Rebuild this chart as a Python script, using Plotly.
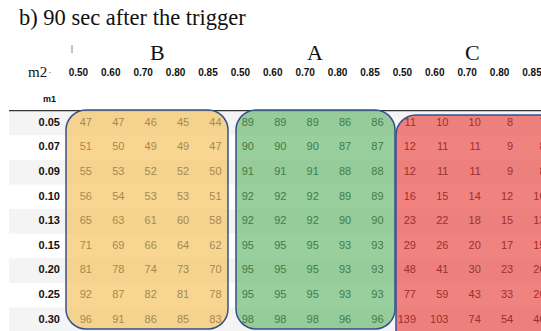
import plotly.graph_objects as go

# ---------------- data ----------------
m1_labels = ["0.05", "0.07", "0.09", "0.10", "0.13", "0.15", "0.20", "0.25", "0.30"]
m2_labels = ["0.50", "0.60", "0.70", "0.80", "0.85"]
groups = ["B", "A", "C"]

B_vals = [
    [47, 47, 46, 45, 44],
    [51, 50, 49, 49, 47],
    [55, 53, 52, 52, 50],
    [56, 54, 53, 53, 51],
    [65, 63, 61, 60, 58],
    [71, 69, 66, 64, 62],
    [81, 78, 74, 73, 70],
    [92, 87, 82, 81, 78],
    [96, 91, 86, 85, 83],
]
A_vals = [
    [89, 89, 89, 86, 86],
    [90, 90, 90, 87, 87],
    [91, 91, 91, 88, 88],
    [92, 92, 92, 89, 89],
    [92, 92, 92, 90, 90],
    [95, 95, 95, 93, 93],
    [95, 95, 95, 93, 93],
    [95, 95, 95, 93, 93],
    [98, 98, 98, 96, 96],
]
C_vals = [
    [11, 10, 10, 8, 7],
    [12, 11, 11, 9, 8],
    [12, 11, 11, 9, 8],
    [16, 15, 14, 12, 10],
    [23, 22, 18, 15, 13],
    [29, 26, 20, 17, 15],
    [48, 41, 30, 23, 20],
    [77, 59, 43, 33, 26],
    [139, 103, 74, 54, 40],
]

# ---------------- geometry helpers ----------------
W, H = 541, 331
COL0, COLW = 92.0, 32.4   # right edge of first value column, column pitch (px)
ROW0, ROWH = 123.0, 24.6  # centre of first row, row pitch (px)


def X(px):
    return (px - COL0) / COLW


def Y(px):
    return (px - ROW0) / ROWH


def rounded(x0, x1, y0, y1, r):
    k = 0.5523 * r
    pts = [
        ("M", [(x0 + r, y0)]),
        ("L", [(x1 - r, y0)]),
        ("C", [(x1 - r + k, y0), (x1, y0 + r - k), (x1, y0 + r)]),
        ("L", [(x1, y1 - r)]),
        ("C", [(x1, y1 - r + k), (x1 - r + k, y1), (x1 - r, y1)]),
        ("L", [(x0 + r, y1)]),
        ("C", [(x0 + r - k, y1), (x0, y1 - r + k), (x0, y1 - r)]),
        ("L", [(x0, y0 + r)]),
        ("C", [(x0, y0 + r - k), (x0 + r - k, y0), (x0 + r, y0)]),
    ]
    s = ""
    for cmd, ps in pts:
        s += cmd + " " + " ".join(f"{X(a):.4f},{Y(b):.4f}" for a, b in ps) + " "
    return s + "Z"


fig = go.Figure()

# row bands
shapes = []
for r in range(len(m1_labels)):
    if r % 2 == 0:
        shapes.append(dict(type="rect", xref="x", yref="y", layer="below",
                           x0=X(9), x1=X(560), y0=r - 0.5, y1=r + 0.5,
                           fillcolor="#f4f4f4", line=dict(width=0)))

# header rule
shapes.append(dict(type="line", xref="x", yref="y", layer="below",
                   x0=X(9), x1=X(560), y0=-0.5, y1=-0.5,
                   line=dict(color="#333333", width=1.3)))

# group boxes
box_px = [(66, 228, 110, 329), (236, 395, 110, 329), (396, 580, 115, 350)]
box_fill = ["rgba(245,200,110,0.75)", "rgba(110,185,115,0.70)", "rgba(235,90,85,0.75)"]
for (x0, x1, y0, y1), fc in zip(box_px, box_fill):
    shapes.append(dict(type="path", xref="x", yref="y", layer="below",
                       path=rounded(x0, x1, y0, y1, 20), fillcolor=fc,
                       line=dict(color="#34508f", width=1.5)))

# small tick mark next to header
shapes.append(dict(type="line", xref="paper", yref="paper",
                   x0=72 / W, x1=72 / W, y0=1 - 45 / H, y1=1 - 53 / H,
                   line=dict(color="#888888", width=1)))

# values
text_colors = ["#a3894f", "#3e7d47", "#9c2f2f"]
for g, (vals, tc) in enumerate(zip([B_vals, A_vals, C_vals], text_colors)):
    xs, ys, ts = [], [], []
    for r, row in enumerate(vals):
        for c, v in enumerate(row):
            xs.append(g * len(m2_labels) + c)
            ys.append(r)
            ts.append(str(v))
    fig.add_trace(go.Scatter(x=xs, y=ys, text=ts, mode="text",
                             textposition="middle left", cliponaxis=True,
                             textfont=dict(family="Liberation Sans, Arial", size=11, color=tc),
                             hoverinfo="skip", showlegend=False))

# column labels (m2)
col_x = [i - 0.12 for i in range(len(m2_labels) * len(groups))]
fig.add_trace(go.Scatter(x=col_x, y=[Y(73)] * len(col_x),
                         text=["<b>" + t + "</b>" for t in m2_labels * len(groups)],
                         mode="text", textposition="middle left", cliponaxis=True,
                         textfont=dict(family="Liberation Sans, Arial", size=10, color="#111111"),
                         hoverinfo="skip", showlegend=False))

# row labels (m1)
fig.add_trace(go.Scatter(x=[X(60)] * len(m1_labels), y=list(range(len(m1_labels))),
                         text=["<b>" + t + "</b>" for t in m1_labels],
                         mode="text", textposition="middle left", cliponaxis=True,
                         textfont=dict(family="Liberation Sans, Arial", size=11, color="#111111"),
                         hoverinfo="skip", showlegend=False))

serif = "Liberation Serif, Times New Roman, serif"
annotations = [
    dict(text="b) 90 sec after the trigger", x=17 / W, y=1 - 17 / H, xanchor="left",
         yanchor="middle", font=dict(family=serif, size=22.5, color="#111111")),
    dict(text="m2", x=26 / W, y=1 - 72 / H, xanchor="left", yanchor="middle",
         font=dict(family=serif, size=15, color="#111111")),
    dict(text="·", x=50 / W, y=1 - 72 / H, xanchor="center", yanchor="middle",
         font=dict(family="Liberation Sans", size=11, color="#777777")),
    dict(text="<b>m1</b>", x=49 / W, y=1 - 99 / H, xanchor="center", yanchor="middle",
         font=dict(family="Liberation Sans, Arial", size=9, color="#111111")),
]
for name, cx in zip(groups, [157, 315, 472]):
    annotations.append(dict(text=name, x=cx / W, y=1 - 52 / H, xanchor="center",
                            yanchor="middle", font=dict(family=serif, size=22, color="#111111")))
for a in annotations:
    a.update(xref="paper", yref="paper", showarrow=False)

fig.update_layout(
    width=W, height=H, margin=dict(l=0, r=0, t=0, b=0),
    paper_bgcolor="white", plot_bgcolor="white",
    shapes=shapes, annotations=annotations,
    xaxis=dict(range=[X(0), X(W)], visible=False, fixedrange=True),
    yaxis=dict(range=[Y(H), Y(0)], visible=False, fixedrange=True),
)

fig.write_html("out.html", config={"displayModeBar": False},
               post_script="document.body.style.margin='0';document.body.style.overflow='hidden';")
